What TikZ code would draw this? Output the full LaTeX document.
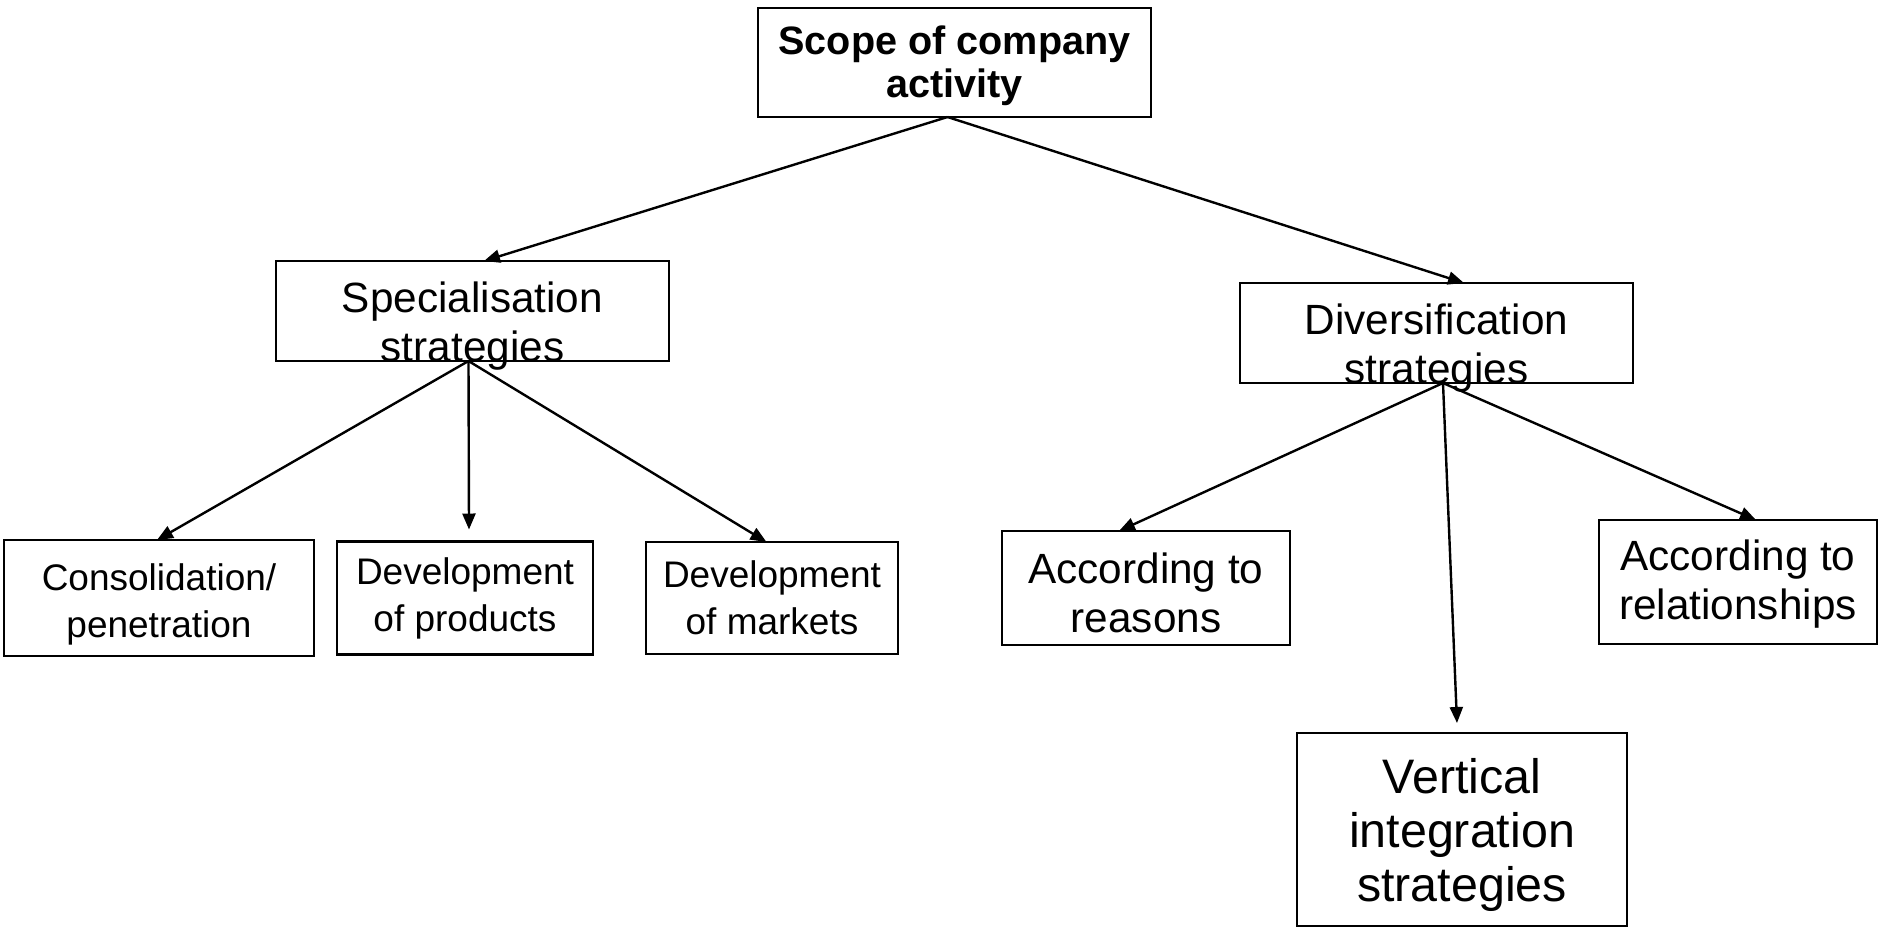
\documentclass[tikz,border=0pt]{standalone}
\usepackage{fontspec}
\setmainfont{Liberation Sans}
\usepackage{tikz}
\usetikzlibrary{positioning}
\usetikzlibrary{arrows.meta}
\tikzset{
  myarrow/.style={
    draw=black,
    line width=1.2pt,
    -{Triangle[length=8pt,width=6.5pt]},
  },
  mybox/.style={
    draw=black,
    shape=rectangle,
    line width=1.4pt,
    align=center,
    inner sep=0pt,
    outer sep=0pt,
  },
  headfont/.style={font=\fontsize{19.8}{21.5}\selectfont\bfseries},
  midfont/.style={font=\fontsize{21.15}{24.5}\selectfont},
  leaffont/.style={font=\fontsize{18.5}{23.5}\selectfont},
  bigfont/.style={font=\fontsize{24.2}{27}\selectfont},
}

\begin{document}
\begin{tikzpicture}[x=0.5pt, y=-0.5pt]
    \useasboundingbox (0,0) rectangle (1879,928);

    % text height/depth are measured from the last baseline
    \node[mybox, headfont, minimum width=196.5pt, text height=44.5pt, text depth=10pt, anchor=north] (scope) at (954.5,8) {Scope of company\\activity};

    \node[mybox, midfont, minimum width=196.5pt, text height=50pt, text depth=0pt, anchor=north] (special) at (472.5,261) {Specialisation\\strategies};
    \node[mybox, midfont, minimum width=196.5pt, text height=50pt, text depth=0pt, anchor=north] (divers) at (1436.5,283) {Diversification\\strategies};

    \node[mybox, leaffont, minimum width=155pt, text height=48.5pt, text depth=9.5pt, anchor=north] (consol) at (159,540) {Consolidation/\\penetration};
    \node[mybox, leaffont, minimum width=128pt, text height=45pt, text depth=11.5pt] (products) [right=11.5pt of consol] {Development\\of products};
    \node[mybox, leaffont, minimum width=126pt, text height=46pt, text depth=10pt] (markets) [right=26.5pt of products] {Development\\of markets};

    \node[mybox, midfont, minimum width=144pt, text height=50.5pt, text depth=6.5pt, anchor=north] (reasons) at (1146,531) {According to\\reasons};
    \node[mybox, midfont, minimum width=139pt, text height=49.5pt, text depth=12.5pt, anchor=north] (relations) at (1738,520) {According to\\relationships};
    \node[mybox, bigfont, minimum width=165pt, text height=84pt, text depth=12.5pt, anchor=north] (vertical) at (1462,733) {Vertical\\integration\\strategies};

    \draw[myarrow] ([xshift=-3.5pt]scope.south) -- ([xshift=5.75pt]special.north);
    \draw[myarrow] ([xshift=-3.5pt]scope.south) -- ([xshift=13.75pt]divers.north);

    \draw[myarrow] ([xshift=-2pt]special.south) -- ([xshift=-1pt]consol.north);
    \draw[myarrow] ([xshift=-2pt]special.south) -- ([xshift=2pt,yshift=6pt]products.north);
    \draw[myarrow] ([xshift=-2pt]special.south) -- ([xshift=-2.75pt]markets.north);

    \draw[myarrow] ([xshift=3.25pt]divers.south) -- ([xshift=-13.5pt]reasons.north);
    \draw[myarrow] ([xshift=3.25pt]divers.south) -- ([xshift=-2.5pt,yshift=5pt]vertical.north);
    \draw[myarrow] ([xshift=3.25pt]divers.south) -- ([xshift=9pt]relations.north);
  \end{tikzpicture}
\end{document}
